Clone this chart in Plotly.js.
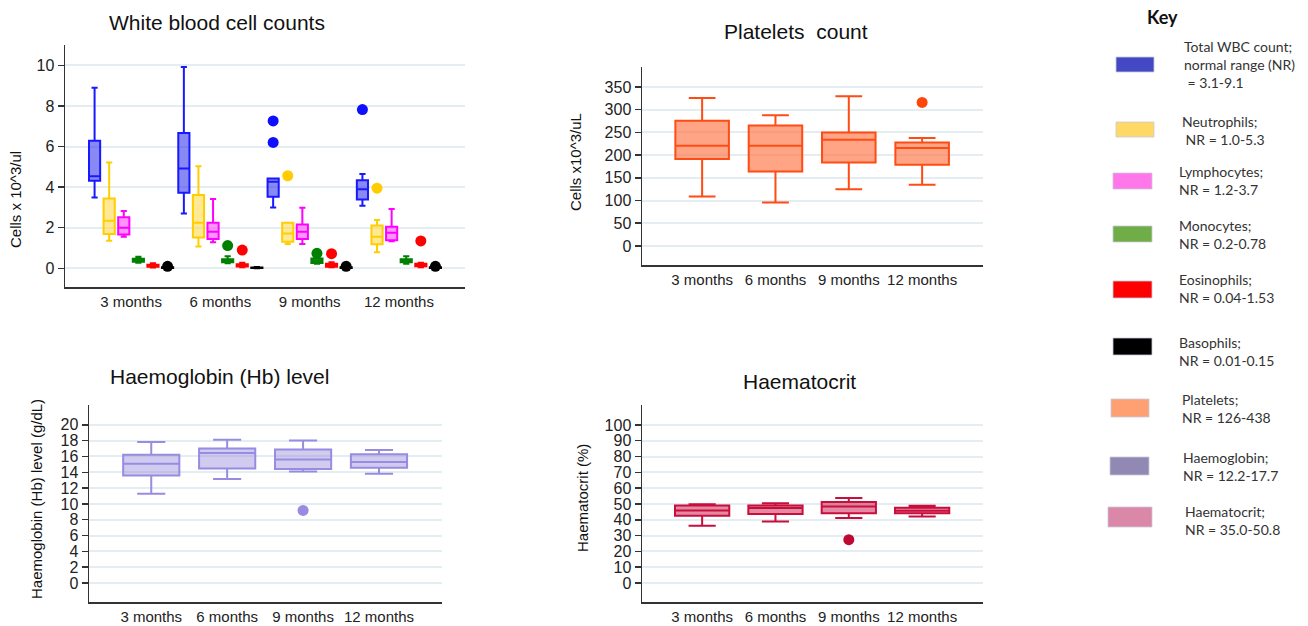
<!DOCTYPE html>
<html>
<head>
<meta charset="utf-8">
<script src="https://cdn.plot.ly/plotly-3.0.1.min.js"></script>
<style>
html,body{margin:0;padding:0;background:#fff;}
#chart{width:1308px;height:626px;}
</style>
</head>
<body>
<div id="chart"></div>
<script>
// ---------------- DATA ----------------
const months = ['3 months', '6 months', '9 months', '12 months'];

// White blood cell counts (x10^3/ul): lower fence, Q1, median, Q3, upper fence
const wbcSeries = ['Total WBC', 'Neutrophils', 'Lymphocytes', 'Monocytes', 'Eosinophils', 'Basophils'];
const totalLower = [3.49, 2.70, 3.00, 3.08];
const totalQ1 = [4.31, 3.72, 3.52, 3.39];
const totalMed = [4.54, 4.92, 4.26, 3.90];
const totalQ3 = [6.28, 6.67, 4.43, 4.34];
const totalUpper = [8.90, 9.92, 4.43, 4.64];
const totalOutMonth = ['9 months', '9 months', '12 months'];
const totalOutVal = [7.26, 6.20, 7.82];

const neutLower = [1.36, 1.07, 1.20, 0.79];
const neutQ1 = [1.69, 1.52, 1.31, 1.18];
const neutMed = [2.34, 2.25, 1.72, 1.56];
const neutQ3 = [3.44, 3.61, 2.25, 2.11];
const neutUpper = [5.21, 5.03, 2.25, 2.38];
const neutOutMonth = ['9 months', '12 months'];
const neutOutVal = [4.56, 3.95];

const lymLower = [1.56, 1.28, 1.20, 1.33];
const lymQ1 = [1.67, 1.44, 1.44, 1.38];
const lymMed = [2.00, 1.80, 1.80, 1.75];
const lymQ3 = [2.51, 2.25, 2.16, 2.05];
const lymUpper = [2.82, 3.41, 2.98, 2.92];
const lymOutMonth = [];
const lymOutVal = [];

const monoLower = [0.27, 0.25, 0.22, 0.22];
const monoQ1 = [0.32, 0.30, 0.26, 0.30];
const monoMed = [0.40, 0.38, 0.36, 0.38];
const monoQ3 = [0.47, 0.45, 0.48, 0.45];
const monoUpper = [0.57, 0.60, 0.55, 0.60];
const monoOutMonth = ['6 months', '9 months'];
const monoOutVal = [1.12, 0.74];

const eosLower = [0.04, 0.05, 0.05, 0.05];
const eosQ1 = [0.08, 0.09, 0.08, 0.10];
const eosMed = [0.13, 0.14, 0.14, 0.16];
const eosQ3 = [0.18, 0.20, 0.22, 0.22];
const eosUpper = [0.25, 0.28, 0.30, 0.28];
const eosOutMonth = ['6 months', '9 months', '12 months'];
const eosOutVal = [0.90, 0.72, 1.35];

const basoLower = [0.01, 0.00, 0.01, 0.01];
const basoQ1 = [0.02, 0.01, 0.02, 0.02];
const basoMed = [0.03, 0.02, 0.03, 0.03];
const basoQ3 = [0.05, 0.04, 0.05, 0.05];
const basoUpper = [0.07, 0.07, 0.07, 0.07];
const basoOutMonth = ['3 months', '9 months', '12 months'];
const basoOutVal = [0.10, 0.10, 0.10];

// Platelets (x10^3/uL)
const pltLower = [108.8, 95.6, 125.0, 134.6];
const pltQ1 = [191.2, 164.0, 183.8, 178.7];
const pltMed = [220.6, 220.6, 233.8, 215.4];
const pltQ3 = [275.7, 265.4, 250.0, 228.0];
const pltUpper = [325.7, 287.5, 329.4, 237.5];
const pltOutMonth = ['12 months'];
const pltOutVal = [316];

// Haemoglobin (g/dL)
const hbLower = [11.28, 13.14, 14.10, 13.81];
const hbQ1 = [13.60, 14.48, 14.40, 14.57];
const hbMed = [15.07, 16.42, 15.62, 15.28];
const hbQ3 = [16.21, 17.00, 16.88, 16.29];
const hbUpper = [17.81, 18.10, 18.02, 16.80];
const hbOutMonth = ['9 months'];
const hbOutVal = [9.18];

// Haematocrit (%)
const hctLower = [36.2, 38.9, 41.05, 42.1];
const hctQ1 = [42.5, 43.6, 44.2, 44.2];
const hctMed = [45.9, 47.4, 48.4, 45.7];
const hctQ3 = [49.05, 49.05, 51.2, 47.6];
const hctUpper = [49.9, 50.5, 53.7, 48.8];
const hctOutMonth = ['9 months'];
const hctOutVal = [27.4];

// Y tick labels
const wbcTicks = [0, 2, 4, 6, 8, 10];
const pltTicks = [0, 50, 100, 150, 200, 250, 300, 350];
const hbTicks = [0, 2, 4, 6, 8, 10, 12, 14, 16, 18, 20];
const hctTicks = [0, 10, 20, 30, 40, 50, 60, 70, 80, 90, 100];

// Key
const keyLabels = [
  'Total WBC count;<br>normal range (NR)<br> = 3.1-9.1',
  'Neutrophils;<br> NR = 1.0-5.3',
  'Lymphocytes;<br>NR = 1.2-3.7',
  'Monocytes;<br>NR = 0.2-0.78',
  'Eosinophils;<br>NR = 0.04-1.53',
  'Basophils;<br>NR = 0.01-0.15',
  'Platelets;<br>NR = 126-438',
  'Haemoglobin;<br>NR = 12.2-17.7',
  'Haematocrit;<br>NR = 35.0-50.8'
];

// ---------------- STYLE ----------------
const W = 1308, H = 626;
const px = x => x / W;
const py = y => 1 - y / H;

const wbcStyles = [
  {line: 'rgb(25,25,255)', fill: 'rgba(40,40,235,0.55)', dot: 'rgb(15,15,255)'},
  {line: 'rgb(255,205,0)', fill: 'rgba(255,215,60,0.55)', dot: 'rgb(255,204,0)'},
  {line: 'rgb(255,0,255)', fill: 'rgba(255,60,255,0.55)', dot: 'rgb(255,0,255)'},
  {line: 'rgb(0,128,0)', fill: 'rgba(0,128,0,0.9)', dot: 'rgb(0,128,0)'},
  {line: 'rgb(255,0,0)', fill: 'rgba(255,0,0,0.9)', dot: 'rgb(255,0,0)'},
  {line: 'rgb(0,0,0)', fill: 'rgba(0,0,0,0.9)', dot: 'rgb(0,0,0)'}
];
const wbcStats = [
  [totalLower, totalQ1, totalMed, totalQ3, totalUpper, totalOutMonth, totalOutVal],
  [neutLower, neutQ1, neutMed, neutQ3, neutUpper, neutOutMonth, neutOutVal],
  [lymLower, lymQ1, lymMed, lymQ3, lymUpper, lymOutMonth, lymOutVal],
  [monoLower, monoQ1, monoMed, monoQ3, monoUpper, monoOutMonth, monoOutVal],
  [eosLower, eosQ1, eosMed, eosQ3, eosUpper, eosOutMonth, eosOutVal],
  [basoLower, basoQ1, basoMed, basoQ3, basoUpper, basoOutMonth, basoOutVal]
];
const slot = 0.1635;      // spacing between boxes inside a month group (axis units)
const wbcBoxWidth = 0.125;

const traces = [];
wbcStats.forEach((s, i) => {
  const off = (i - (wbcStats.length - 1) / 2) * slot;
  const st = wbcStyles[i];
  traces.push({
    type: 'box', name: wbcSeries[i], xaxis: 'x', yaxis: 'y',
    x: months.map((m, k) => k + off),
    lowerfence: s[0], q1: s[1], median: s[2], q3: s[3], upperfence: s[4],
    width: wbcBoxWidth, whiskerwidth: 0.55, boxpoints: false,
    line: {color: st.line, width: 2}, fillcolor: st.fill, showlegend: false, hoverinfo: 'skip'
  });
  if (s[5].length) {
    traces.push({
      type: 'scatter', mode: 'markers', xaxis: 'x', yaxis: 'y',
      x: s[5].map(m => months.indexOf(m) + off), y: s[6],
      marker: {color: st.dot, size: 11}, showlegend: false, hoverinfo: 'skip'
    });
  }
});

function singlePanel(ax, ay, stats, st, bw) {
  traces.push({
    type: 'box', xaxis: ax, yaxis: ay, x: months,
    lowerfence: stats[0], q1: stats[1], median: stats[2], q3: stats[3], upperfence: stats[4],
    width: bw, whiskerwidth: 0.5, boxpoints: false,
    line: {color: st.line, width: 2}, fillcolor: st.fill, showlegend: false, hoverinfo: 'skip'
  });
  traces.push({
    type: 'scatter', mode: 'markers', xaxis: ax, yaxis: ay,
    x: stats[5], y: stats[6], marker: {color: st.dot, size: 11},
    showlegend: false, hoverinfo: 'skip'
  });
}
singlePanel('x2', 'y2', [pltLower, pltQ1, pltMed, pltQ3, pltUpper, pltOutMonth, pltOutVal],
  {line: 'rgb(255,75,20)', fill: 'rgba(255,110,60,0.62)', dot: 'rgb(255,70,10)'}, 0.73);
singlePanel('x3', 'y3', [hbLower, hbQ1, hbMed, hbQ3, hbUpper, hbOutMonth, hbOutVal],
  {line: 'rgb(150,140,225)', fill: 'rgba(150,140,220,0.45)', dot: 'rgb(150,140,225)'}, 0.74);
singlePanel('x4', 'y4', [hctLower, hctQ1, hctMed, hctQ3, hctUpper, hctOutMonth, hctOutVal],
  {line: 'rgb(200,15,60)', fill: 'rgba(205,40,90,0.55)', dot: 'rgb(190,10,50)'}, 0.74);

const yTickFont = {family: 'Liberation Sans, Arial, sans-serif', size: 16, color: '#222'};
const xTickFont = {family: 'Liberation Sans, Arial, sans-serif', size: 15, color: '#222'};
const gridColor = '#e4edf1';
function yAx(domain, range, ticks) {
  return {
    domain: domain, range: range, tickmode: 'array', tickvals: ticks, ticktext: ticks.map(String),
    showgrid: true, gridcolor: gridColor, gridwidth: 2, zeroline: false,
    showline: true, linecolor: '#333', linewidth: 1.5,
    ticks: 'outside', ticklen: 6, tickwidth: 1.5, tickcolor: '#333',
    tickfont: yTickFont, fixedrange: true
  };
}
function xAx(domain, range, anchor, numeric) {
  const a = {
    domain: domain, range: range, anchor: anchor,
    showgrid: false, zeroline: false, showline: true, linecolor: '#333', linewidth: 1.5,
    ticks: '', tickfont: xTickFont, fixedrange: true
  };
  if (numeric) {
    a.type = 'linear';
    a.tickmode = 'array';
    a.tickvals = months.map((m, k) => k);
    a.ticktext = months;
  } else {
    a.type = 'category';
  }
  return a;
}

const layout = {
  width: W, height: H,
  margin: {l: 0, r: 0, t: 0, b: 0},
  paper_bgcolor: '#fff', plot_bgcolor: '#fff',
  showlegend: false, boxmode: 'overlay',
  xaxis: xAx([px(65), px(465)], [-0.74, 3.74], 'y', true),
  yaxis: Object.assign(yAx([py(287), py(45)], [-0.92, 11.0], wbcTicks), {anchor: 'x'}),
  xaxis2: xAx([px(642), px(983)], [-0.82, 3.83], 'y2', false),
  yaxis2: Object.assign(yAx([py(265), py(67)], [-42, 394], pltTicks), {anchor: 'x2'}),
  xaxis3: xAx([px(89), px(442)], [-0.82, 3.83], 'y3', false),
  yaxis3: Object.assign(yAx([py(602), py(405)], [-2.4, 22.5], hbTicks), {anchor: 'x3'}),
  xaxis4: xAx([px(642), px(983)], [-0.82, 3.83], 'y4', false),
  yaxis4: Object.assign(yAx([py(602), py(405)], [-12, 112.6], hctTicks), {anchor: 'x4'}),
  annotations: [],
  shapes: []
};

const titleFont = {family: 'Liberation Sans, Arial, sans-serif', size: 21, color: '#111'};
const axTitleFont = {family: 'Liberation Sans, Arial, sans-serif', size: 15, color: '#111'};
[
  ['White blood cell counts', 217, 23],
  ['Platelets  count', 796, 31],
  ['Haemoglobin (Hb) level', 219, 376],
  ['Haematocrit', 799, 381]
].forEach(t => layout.annotations.push({
  text: t[0].replace(/  /g, ' &nbsp;'), x: px(t[1]), y: py(t[2]), xref: 'paper', yref: 'paper',
  xanchor: 'center', yanchor: 'middle', showarrow: false, font: titleFont
}));
[
  ['Cells x 10^3/ul', 16, 200],
  ['Cells x10^3/uL', 576, 162],
  ['Haemoglobin (Hb) level (g/dL)', 36, 499],
  ['Haematocrit (%)', 582, 498]
].forEach(t => layout.annotations.push({
  text: t[0], x: px(t[1]), y: py(t[2]), xref: 'paper', yref: 'paper', textangle: -90,
  xanchor: 'center', yanchor: 'middle', showarrow: false, font: axTitleFont
}));

// Key
const keyFont = {family: 'Lato, Open Sans, sans-serif', size: 14, color: '#333'};
layout.annotations.push({
  text: '<b>Key</b>', x: px(1162), y: py(17), xref: 'paper', yref: 'paper',
  xanchor: 'center', yanchor: 'middle', showarrow: false,
  font: {family: 'Lato, Open Sans, sans-serif', size: 18, color: '#111'}
});
const keyColors = ['#4349c5', '#ffd966', '#ff77e8', '#70ad47', '#ff0000', '#000000', '#ffa073', '#9188b3', '#db87a8'];
const keySwatch = [
  [1116, 1154, 57, 72], [1116, 1154, 122, 137], [1113, 1152, 173, 189],
  [1113, 1152, 226, 242], [1113, 1152, 281, 298], [1113, 1152, 338, 355],
  [1111, 1149, 399, 417], [1110, 1149, 457, 475], [1108, 1152, 507, 527]
];
const keyText = [[1182, 64], [1180, 130], [1177, 181], [1177, 234], [1177, 289], [1177, 351], [1180, 408], [1181, 466], [1183, 520]];
keyLabels.forEach((lab, i) => {
  const s = keySwatch[i];
  layout.shapes.push({
    type: 'rect', xref: 'paper', yref: 'paper',
    x0: px(s[0]), x1: px(s[1]), y0: py(s[3]), y1: py(s[2]),
    fillcolor: keyColors[i], line: {color: 'rgba(200,200,220,0.8)', width: 1}
  });
  layout.annotations.push({
    text: lab, x: px(keyText[i][0]), y: py(keyText[i][1]), xref: 'paper', yref: 'paper',
    xanchor: 'left', yanchor: 'middle', align: 'left', showarrow: false, font: keyFont
  });
});

Plotly.newPlot('chart', traces, layout, {staticPlot: true, displayModeBar: false});
</script>
</body>
</html>
